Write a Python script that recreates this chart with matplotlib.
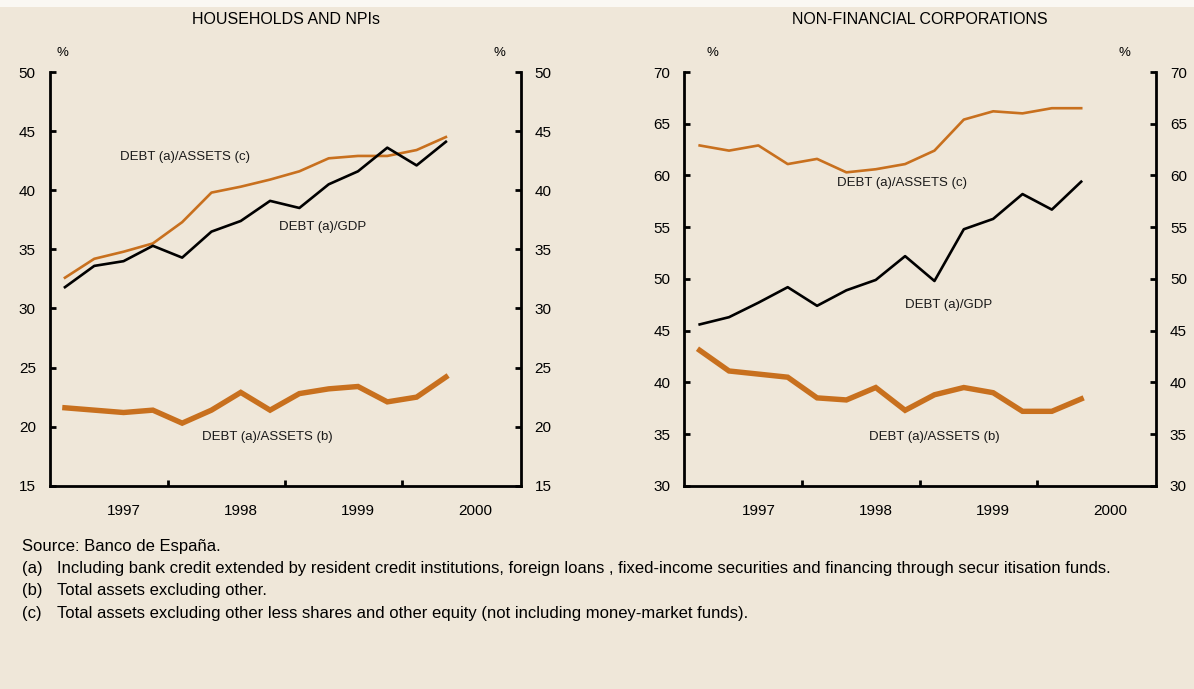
import numpy as np
import matplotlib
matplotlib.use('Agg')
from matplotlib import pyplot as plt
from matplotlib.patches import Rectangle

# Trimestres 1997 T1 ... 2000 T2
quarters = np.arange(14)
years = ['1997', '1998', '1999', '2000']

# Hogares e ISFL
hh_debt_gdp = [31.8, 33.6, 34.0, 35.3, 34.3, 36.5, 37.4, 39.1, 38.5, 40.5,
               41.6, 43.6, 42.1, 44.1]
hh_debt_assets_c = [32.6, 34.2, 34.8, 35.5, 37.3, 39.8, 40.3, 40.9, 41.6, 42.7,
                    42.9, 42.9, 43.4, 44.5]
hh_debt_assets_b = [21.6, 21.4, 21.2, 21.4, 20.3, 21.4, 22.9, 21.4, 22.8, 23.2,
                    23.4, 22.1, 22.5, 24.2]

# Sociedades no financieras
nfc_debt_gdp = [45.6, 46.3, 47.7, 49.2, 47.4, 48.9, 49.9, 52.2, 49.8, 54.8,
                55.8, 58.2, 56.7, 59.4]
nfc_debt_assets_c = [62.9, 62.4, 62.9, 61.1, 61.6, 60.3, 60.6, 61.1, 62.4, 65.4,
                     66.2, 66.0, 66.5, 66.5]
nfc_debt_assets_b = [43.1, 41.1, 40.8, 40.5, 38.5, 38.3, 39.5, 37.3, 38.8, 39.5,
                     39.0, 37.2, 37.2, 38.4]

BG = '#EFE7D9'
ORANGE = '#C8701E'
plt.rcParams['font.family'] = ['Liberation Sans', 'DejaVu Sans']
plt.rcParams['font.size'] = 11

fig = plt.figure(figsize=(11.94, 6.89), dpi=100, facecolor=BG)
fig.patches.append(Rectangle((0, 1 - 7 / 689), 1, 7 / 689, transform=fig.transFigure,
                             facecolor='#FAF8F3', edgecolor='none', zorder=0))


def panel(rect, gdp, assets_c, assets_b, ylim, pct_x, labels):
    ax = fig.add_axes(rect)
    ax.set_facecolor('none')
    ax.plot(quarters, assets_b, color=ORANGE, lw=3.9, solid_joinstyle='miter')
    ax.plot(quarters, assets_c, color=ORANGE, lw=1.9)
    ax.plot(quarters, gdp, color='black', lw=1.9)
    ax.set_xlim(-0.52, 15.55)
    ax.set_ylim(*ylim)
    ax.set_yticks(np.arange(ylim[0], ylim[1] + 1, 5))
    ax.spines['top'].set_visible(False)
    for s in ['left', 'right', 'bottom']:
        ax.spines[s].set_linewidth(2)
    ax.tick_params(axis='y', which='both', left=True, right=True, labelleft=True,
                   labelright=True, direction='in', length=4, width=2, pad=10)
    ax.set_xticks([3.5, 7.5, 11.5])
    ax.set_xticklabels([])
    ax.tick_params(axis='x', which='major', direction='in', length=4, width=2)
    ax.set_xticks([2, 6, 10, 14], minor=True)
    ax.set_xticklabels(years, minor=True)
    ax.tick_params(axis='x', which='minor', length=0, pad=13)
    ax.text(pct_x[0], 1.045, '%', transform=ax.transAxes, ha='center', va='center', fontsize=9.5)
    ax.text(pct_x[1], 1.045, '%', transform=ax.transAxes, ha='center', va='center', fontsize=9.5)
    for (x, y, s) in labels:
        ax.text(x, y, s, ha='center', va='center', fontsize=9.5, color='#1a1a1a')
    return ax


panel([0.04163, 0.2949, 0.3944, 0.6006], hh_debt_gdp, hh_debt_assets_c, hh_debt_assets_b,
      (15, 50), (0.027, 0.956),
      [(4.1, 42.8, 'DEBT (a)/ASSETS (c)'), (8.8, 36.9, 'DEBT (a)/GDP'),
       (6.9, 19.15, 'DEBT (a)/ASSETS (b)')])
panel([0.5732, 0.2949, 0.3950, 0.6006], nfc_debt_gdp, nfc_debt_assets_c, nfc_debt_assets_b,
      (30, 70), (0.0596, 0.9336),
      [(6.9, 59.25, 'DEBT (a)/ASSETS (c)'), (8.5, 47.5, 'DEBT (a)/GDP'),
       (8.0, 34.75, 'DEBT (a)/ASSETS (b)')])

fig.text(286 / 1194, 1 - 20 / 689, 'HOUSEHOLDS AND NPIs', ha='center', va='center', fontsize=11.5)
fig.text(920 / 1194, 1 - 20 / 689, 'NON-FINANCIAL CORPORATIONS', ha='center', va='center', fontsize=11.5)

# Notas
notes = [('', 'Source: Banco de España.'),
         ('(a)', 'Including bank credit extended by resident credit institutions, foreign loans , '
                 'fixed-income securities and financing through secur itisation funds.'),
         ('(b)', 'Total assets excluding other.'),
         ('(c)', 'Total assets excluding other less shares and other equity '
                 '(not including money-market funds).')]
for i, (tag, txt) in enumerate(notes):
    y = 1 - (546 + 22.5 * i) / 689
    if tag:
        fig.text(22 / 1194, y, tag, va='center', fontsize=12)
        fig.text(57 / 1194, y, txt, va='center', fontsize=12)
    else:
        fig.text(22 / 1194, y, txt, va='center', fontsize=12)

fig.savefig('out.png', dpi=100, facecolor=BG)
